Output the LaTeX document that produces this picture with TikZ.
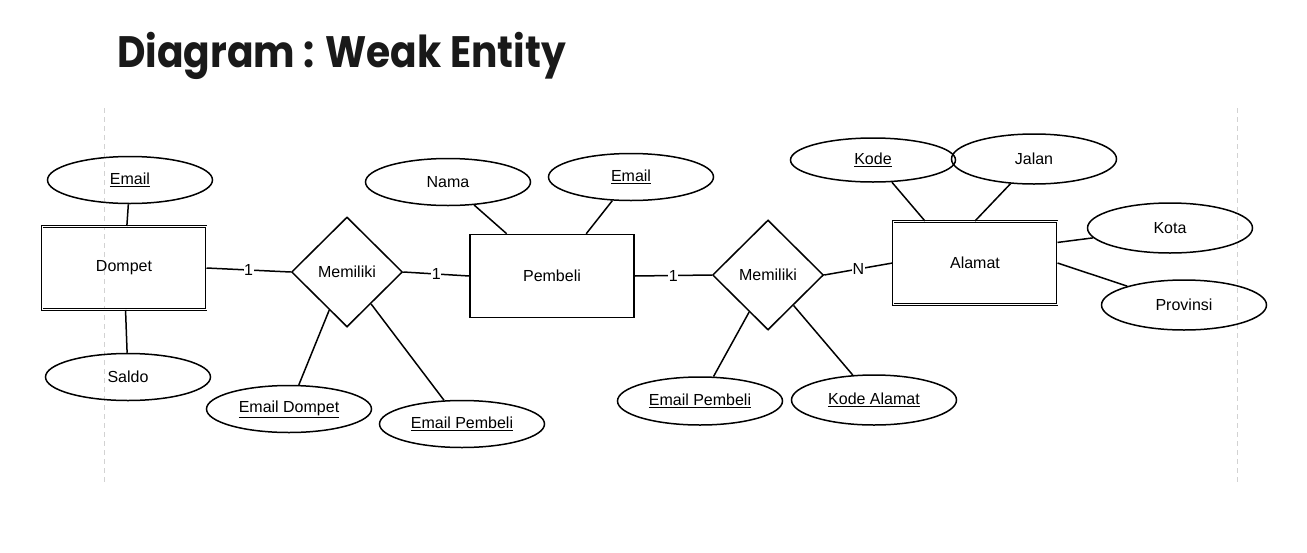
\documentclass[tikz,border=0pt]{standalone}
\usepackage{fontspec}
\setmainfont{Liberation Sans}
\newfontfamily\titlefont{Poppins}
\usetikzlibrary{shapes.geometric, positioning}

\tikzset{
    txt/.style={font=\fontsize{16}{19}\selectfont},
    entity/.style={draw, rectangle, line width=1.5pt, minimum width=164pt, minimum height=83pt, txt},
    weakentity/.style={entity, line width=1pt, double, double distance=0.3pt},
    attr/.style={draw, ellipse, line width=1.5pt, inner sep=0pt, minimum width=165pt, minimum height=47pt, txt},
    relation/.style={draw, diamond, line width=1.5pt, inner sep=0pt, minimum width=111pt, minimum height=110pt, txt},
    link/.style={line width=1.5pt},
    card/.style={fill=white, inner sep=0.5pt, txt},
    divider/.style={gray!35, line width=1pt, dash pattern=on 5pt off 4pt}
}

\begin{document}
\begin{tikzpicture}[x=1pt, y=-1pt]
    % Page size of the reference
    \useasboundingbox (0,0) rectangle (1307,552);

    % Title
    \node[anchor=base west, inner sep=0pt, xscale=0.89, transform shape, font=\titlefont\bfseries\fontsize{44}{50}\selectfont, text=black!90] (title) at (117,67) {Diagram : Weak Entity};

    % Dashed margins
    \draw[divider] (104,108) -- (104,482);
    \draw[divider] (1237,108) -- (1237,482);

    % Entities
    \node[weakentity] (dompet) at (124,268) {Dompet};
    \node[entity] (pembeli) at (552,276) {Pembeli};
    \node[weakentity] (alamat) at (975,263) {Alamat};

    % Relations
    \node[relation] (memA) at (347,272) {Memiliki};
    \node[relation] (memB) at (768,275) {Memiliki};

    % Attributes of Dompet
    \node[attr] (dEmail) at (130,180) {\underline{Email}};
    \node[attr] (dSaldo) at (128,377) {Saldo};

    % Attributes of Pembeli
    \node[attr] (pNama) at (448,182) {Nama};
    \node[attr] (pEmail) at (631,177) {\underline{Email}};

    % Attributes of Alamat
    \node[attr, minimum height=44pt] (aKode) at (873,160) {\underline{Kode}};
    \node[attr, minimum height=50pt] (aJalan) at (1034,159) {Jalan};
    \node[attr, minimum height=50pt] (aKota) at (1170,228) {Kota};
    \node[attr, minimum height=50pt] (aProv) at (1184,305) {Provinsi};

    % Attributes of the relations
    \node[attr] (rDompet) at (289,409) {\underline{Email Dompet}};
    \node[attr] (rPembeliA) at (462,424) {\underline{Email Pembeli}};
    \node[attr, minimum height=48pt] (rPembeliB) at (700,401) {\underline{Email Pembeli}};
    \node[attr, minimum height=50pt] (rKode) at (874,400) {\underline{Kode Alamat}};

    % Relationship lines with cardinality
    \draw[link] (dompet.east) -- node[card] {1} (memA.west);
    \draw[link] (memA.east) -- node[card] {1} (pembeli.west);
    \draw[link] (pembeli.east) -- node[card] {1} (memB.west);
    \draw[link] (memB.east) -- node[card] {N} (alamat.west);

    % Attribute lines
    \draw[link] (dEmail) -- (dompet);
    \draw[link] (dSaldo) -- (dompet);
    \draw[link] (pNama) -- (pembeli.137);
    \draw[link] (pEmail) -- (pembeli.51);
    \draw[link] (aKode) -- (alamat.140);
    \draw[link] (aJalan) -- (alamat.north);
    \draw[link] (aKota) -- (alamat.14);
    \draw[link] (aProv) -- (alamat.east);
    \draw[link] (rDompet) -- (memA.245);
    \draw[link] (rPembeliA) -- (memA.307);
    \draw[link] (rPembeliB) -- (memB.243);
    \draw[link] (rKode) -- (memB.310);

\end{tikzpicture}
\end{document}
